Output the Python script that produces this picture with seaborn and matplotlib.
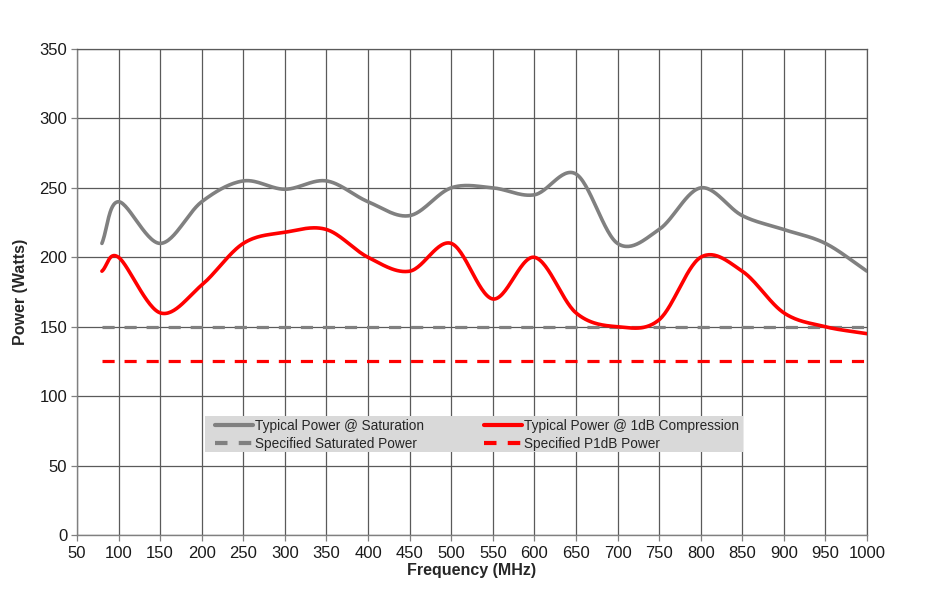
import numpy as np
import pandas as pd
import matplotlib
matplotlib.use("Agg")
import matplotlib.pyplot as plt
import matplotlib.patches as mpatches
import seaborn as sns

freq = [80, 100, 150, 200, 250, 300, 350, 400, 450, 500, 550, 600, 650, 700, 750, 800, 850, 900, 950, 1000]
sat_power = [210, 240, 210, 240, 255, 249, 255, 240, 230, 250, 250, 245, 260, 210, 220, 250, 230, 220, 210, 190]
p1db_power = [190, 200, 160, 180, 210, 218, 220, 200, 190, 210, 170, 200, 160, 150, 155, 200, 190, 160, 150, 145]
spec_sat = 150
spec_p1db = 125
spec_freq = [80, 1000]

x_ticks = list(range(50, 1001, 50))
y_ticks = list(range(0, 351, 50))


def smooth(xs, ys, n=30):
    """Catmull-Rom style smoothing (like spreadsheet 'smoothed line')."""
    xs = np.asarray(xs, float)
    ys = np.asarray(ys, float)
    px = np.concatenate([[2 * xs[0] - xs[1]], xs, [2 * xs[-1] - xs[-2]]])
    py = np.concatenate([[2 * ys[0] - ys[1]], ys, [2 * ys[-1] - ys[-2]]])
    outx, outy = [], []
    t = np.linspace(0, 1, n, endpoint=False)
    for i in range(1, len(px) - 2):
        p0, p1, p2, p3 = [np.array([px[j], py[j]]) for j in (i - 1, i, i + 1, i + 2)]
        c1 = p1 + (p2 - p0) / 6.0
        c2 = p2 - (p3 - p1) / 6.0
        b = ((1 - t) ** 3)[:, None] * p1 + (3 * (1 - t) ** 2 * t)[:, None] * c1 \
            + (3 * (1 - t) * t ** 2)[:, None] * c2 + (t ** 3)[:, None] * p2
        outx.extend(b[:, 0]); outy.extend(b[:, 1])
    outx.append(xs[-1]); outy.append(ys[-1])
    return np.array(outx), np.array(outy)


sns.set_theme(style="white")
plt.rcParams["font.family"] = ["Liberation Sans", "DejaVu Sans"]

fig = plt.figure(figsize=(9.25, 5.96), dpi=100)
ax = fig.add_axes([0.0832, 0.1023, 0.8541, 0.8155])

sx, sy = smooth(freq, sat_power)
rx, ry = smooth(freq, p1db_power)
df_sat = pd.DataFrame({"f": sx, "p": sy})
df_red = pd.DataFrame({"f": rx, "p": ry})

sns.lineplot(data=df_sat, x="f", y="p", ax=ax, color="#808080", linewidth=2.6,
             sort=False, estimator=None, label="Typical Power @ Saturation", zorder=4)
sns.lineplot(data=df_red, x="f", y="p", ax=ax, color="#ff0000", linewidth=2.6,
             sort=False, estimator=None, label="Typical Power @ 1dB Compression", zorder=5)
ax.plot(spec_freq, [spec_sat, spec_sat], color="#808080", linewidth=2.3,
        dashes=(3.8, 3.1), label="Specified Saturated Power", zorder=3)
ax.plot(spec_freq, [spec_p1db, spec_p1db], color="#ff0000", linewidth=2.3,
        dashes=(3.8, 3.1), label="Specified P1dB Power", zorder=3)

ax.set_xlim(50, 1000)
ax.set_ylim(0, 350)
ax.set_xticks(x_ticks)
ax.set_yticks(y_ticks)
ax.set_xticklabels([str(v) for v in x_ticks], fontsize=12, color="#1a1a1a")
ax.set_yticklabels([str(v) for v in y_ticks], fontsize=12, color="#1a1a1a")
ax.grid(True, color="#5a5a5a", linewidth=0.9)
ax.set_axisbelow(True)
ax.tick_params(axis="both", which="both", direction="out", length=4, width=0.9,
               color="#808080", bottom=True, left=True)
ax.tick_params(axis="x", pad=4)
ax.tick_params(axis="y", pad=3)
for side in ["left", "bottom"]:
    ax.spines[side].set_color("#808080")
    ax.spines[side].set_linewidth(1.0)
for side in ["top", "right"]:
    ax.spines[side].set_color("#5a5a5a")
    ax.spines[side].set_linewidth(0.9)

ax.set_xlabel("Frequency (MHz)", fontsize=11.5, fontweight="bold", labelpad=1)
ax.set_ylabel("Power (Watts)", fontsize=11.5, fontweight="bold", labelpad=8)

# legend background box
bg = mpatches.Rectangle((0.162, (535 - 452) / 486), (743 - 205) / 790, 36 / 486,
                        transform=ax.transAxes, facecolor="#d9d9d9", edgecolor="none",
                        zorder=9)
ax.add_patch(bg)

handles, labels = ax.get_legend_handles_labels()
order = [0, 2, 1, 3]
leg = ax.legend([handles[i] for i in order], [labels[i] for i in order],
                ncol=2, loc="upper left", bbox_to_anchor=((215 - 77) / 790, (535 - 419) / 486),
                frameon=False, fontsize=9.8,
                handlelength=2.76, handletextpad=0.2, columnspacing=4.4,
                borderpad=0, labelspacing=0.3, borderaxespad=0)
leg.set_zorder(10)
for i, h in enumerate(leg.legend_handles):
    h.set_linewidth(3.0)
    if i in (1, 3):
        h.set_dashes((3.0, 2.7))

fig.savefig("out.png", dpi=100)
